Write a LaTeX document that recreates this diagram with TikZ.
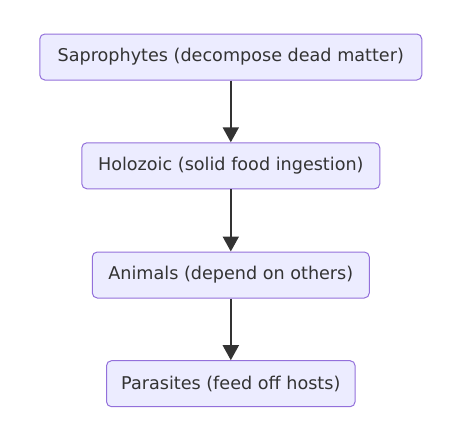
\documentclass[tikz,border=0pt]{standalone}
\usepackage{fontspec}
\setmainfont{DejaVu Sans}
\usetikzlibrary{arrows.meta}
\definecolor{nodefill}{HTML}{ECECFF}
\definecolor{nodeline}{HTML}{9370DB}
\definecolor{textcol}{HTML}{333333}
\definecolor{edgecol}{HTML}{333333}
\begin{document}
\begin{tikzpicture}[x=1pt,y=-1pt,
  box/.style={draw=nodeline, fill=nodefill, line width=1pt, rounded corners=5pt,
    minimum height=46pt, inner sep=0pt, text=textcol,
    font=\fontsize{17.6}{20}\selectfont},
  edge/.style={draw=edgecol, line width=2pt,
    -{Triangle[length=15pt,width=16pt]}}]
\useasboundingbox (0,0) rectangle (455,437);
\node[box, minimum width=382pt] (a) at (230.8,57) {Saprophytes (decompose dead matter)};
\node[box, minimum width=298pt] (b) at (230.8,165.8) {Holozoic (solid food ingestion)};
\node[box, minimum width=277pt] (c) at (230.8,275) {Animals (depend on others)};
\node[box, minimum width=248.6pt] (d) at (230.8,383.7) {Parasites (feed off hosts)};
\draw[edge] (a) -- (b);
\draw[edge] (b) -- (c);
\draw[edge] (c) -- (d);
\end{tikzpicture}
\end{document}
